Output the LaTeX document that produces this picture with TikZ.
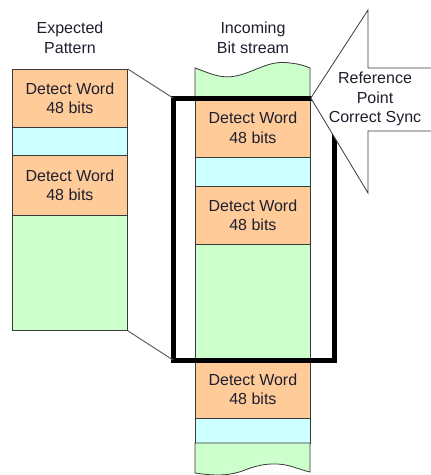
\documentclass[tikz,border=0pt]{standalone}
\usepackage{fontspec}
\setmainfont{Liberation Sans}
\definecolor{peach}{HTML}{FFCC99}
\definecolor{aqua}{HTML}{CCFFFF}
\definecolor{mint}{HTML}{CCFFCC}
\definecolor{edge}{HTML}{3A3A3A}
\definecolor{ink}{HTML}{1E1E2E}
\begin{document}
\begin{tikzpicture}[x=1pt,y=-1pt,
  txt/.style={font=\fontsize{16}{19.5}\selectfont, text=ink, align=center, inner sep=0pt},
  cell/.style={txt, draw=edge, line width=0.8pt, anchor=north west, minimum width=115pt},
  window/.style={draw=black, line width=5pt, inner sep=0pt, outer sep=0pt, anchor=north west},
  link/.style={draw=edge!80, line width=1pt},
  callout/.style={draw=edge, line width=0.8pt, line join=miter}]
\useasboundingbox (0,0) rectangle (431,475);
% titles
\node[txt] (t1) at (70,38) {Expected\\Pattern};
\node[txt] (t2) at (253,38) {Incoming\\Bit stream};
% left column
\node[cell, fill=peach, minimum height=58pt] (l1) at (12,69) {Detect Word\\48 bits};
\node[cell, fill=aqua, minimum height=28pt] (l2) at (12,127) {};
\node[cell, fill=peach, minimum height=60pt] (l3) at (12,155) {Detect Word\\48 bits};
\node[cell, fill=mint, minimum height=115pt] (l4) at (12,215) {};
% right column
\draw[fill=mint, draw=edge, line width=0.8pt] (195,98) -- (195,68)
  .. controls (212,74) and (222,80) .. (240,75)
  .. controls (258,70) and (270,60) .. (290,63)
  .. controls (300,64) and (305,66) .. (310,68) -- (310,98) -- cycle;
\node[cell, fill=peach, minimum height=59pt] (r1) at (195,98) {Detect Word\\48 bits};
\node[cell, fill=aqua, minimum height=29pt] (r2) at (195,157) {};
\node[cell, fill=peach, minimum height=58pt] (r3) at (195,186) {Detect Word\\48 bits};
\node[cell, fill=mint, minimum height=116pt] (r4) at (195,244) {};
\node[cell, fill=peach, minimum height=58pt] (r5) at (195,360) {Detect Word\\48 bits};
\node[cell, fill=aqua, minimum height=25pt] (r6) at (195,418) {};
\draw[fill=mint, draw=edge, line width=0.8pt] (195,443) -- (195,473)
  .. controls (215,476) and (230,476) .. (245,470)
  .. controls (260,464) and (275,462) .. (290,466)
  .. controls (300,469) and (305,471) .. (310,472) -- (310,443) -- cycle;
% window
\node[window, minimum width=161.5pt, minimum height=262pt] (win) at (173,98) {};
% connectors
\draw[link] (l1.north east) -- (win.north west);
\draw[link] (l4.south east) -- (win.south west);
% callout arrow
\fill[white] (r1.north east) -- (368,10) -- (368,68) -- (440,68) -- (440,131) -- (368,131) -- (368,193) -- cycle;
\draw[callout] (440,68) -- (368,68) -- (368,10) -- (r1.north east) -- (368,193) -- (368,131) -- (440,131);
\node[txt] (ref) at (375,99) {Reference\\Point\\Correct Sync};
\end{tikzpicture}
\end{document}
